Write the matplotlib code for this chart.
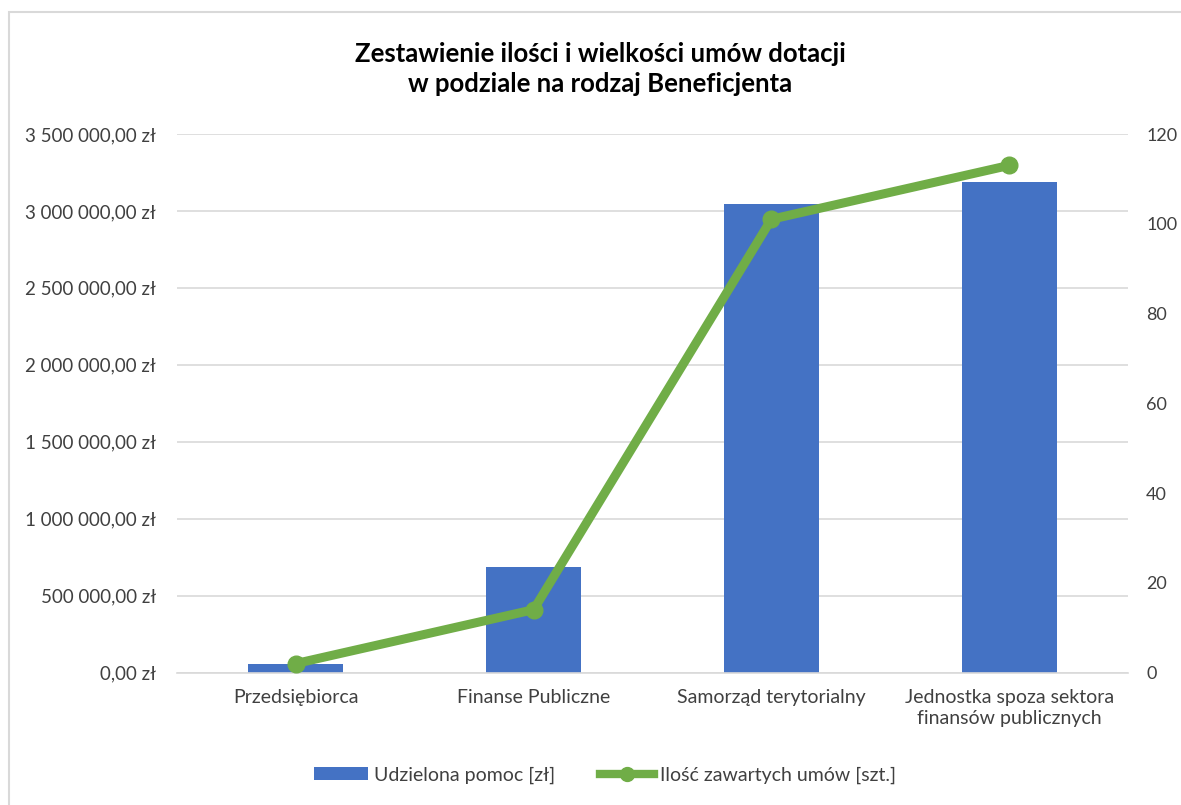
import matplotlib
matplotlib.use("Agg")
import matplotlib.pyplot as plt
from matplotlib.lines import Line2D
from matplotlib.patches import Patch, Rectangle
from matplotlib.ticker import FuncFormatter, MultipleLocator

plt.rcParams['font.family'] = ['Lato', 'DejaVu Sans']

categories = ["Przedsiębiorca", "Finanse Publiczne", "Samorząd terytorialny",
              "Jednostka spoza sektora\nfinansów publicznych"]
amount_pln = [52000, 683000, 3043000, 3186000]
contracts = [2, 14, 101, 113]

title = "Zestawienie ilości i wielkości umów dotacji\nw podziale na rodzaj Beneficjenta"
label_bar = "Udzielona pomoc [zł]"
label_line = "Ilość zawartych umów [szt.]"

BAR = "#4472C4"
LINE = "#70AD47"
GRID = "#D9D9D9"
TXT = "#404040"

fig = plt.figure(figsize=(11.81, 8.05), dpi=100)
# chart frame: only the left and top edges fall inside the picture
fig.patches.append(Rectangle((8.5/1181, -0.1), 1.2, 1.1 - 12.5/805, transform=fig.transFigure,
                             fill=False, edgecolor=GRID, linewidth=1.5))
ax = fig.add_axes([177/1181, 1-672.5/805, 951/1181, 538.5/805])
ax2 = ax.twinx()

x = list(range(len(categories)))
ax.bar(x, amount_pln, width=0.4, color=BAR, zorder=2)
ax.set_xlim(-0.5, len(categories) - 0.5)
ax.set_ylim(0, 3500000)
ax.yaxis.set_major_locator(MultipleLocator(500000))

def pln(v, pos):
    s = f"{v:,.2f}".replace(",", " ").replace(".", ",")
    return s + " zł"
ax.yaxis.set_major_formatter(FuncFormatter(pln))
ax.grid(axis='y', color=GRID, linewidth=1.2, zorder=0)
ax.set_axisbelow(True)

ax2.plot(x, contracts, color=LINE, linewidth=6.5, marker='o', markersize=12,
         solid_capstyle='round', zorder=3)
ax2.set_ylim(0, 120)
ax2.yaxis.set_major_locator(MultipleLocator(20))

for a in (ax, ax2):
    for s in a.spines.values():
        s.set_visible(False)
    a.tick_params(length=0, labelsize=13.5, colors=TXT)
ax.spines['bottom'].set_visible(True)
ax.spines['bottom'].set_color(GRID)
ax.spines['bottom'].set_linewidth(1.2)
ax.set_xticks(x)
ax.set_xticklabels(categories, fontsize=14, linespacing=1.25)
ax.tick_params(axis='x', pad=12)
ax.tick_params(axis='y', pad=15)
ax2.tick_params(axis='y', pad=13, labelsize=13)

fig.text(600/1181, 1-69/805, title, ha='center', va='center', fontsize=18.5,
         fontweight='bold', color='black', linespacing=1.25)

handles = [Patch(facecolor=BAR, edgecolor='none'),
           Line2D([0], [0], color=LINE, linewidth=6, marker='o', markersize=10)]
fig.legend(handles, [label_bar, label_line], loc='center', bbox_to_anchor=(605/1181, 1-775/805),
           ncol=2, frameon=False, fontsize=14, handlelength=2.8, columnspacing=2.3,
           handletextpad=0.3, labelcolor=TXT)

fig.savefig("out.png", dpi=100)
